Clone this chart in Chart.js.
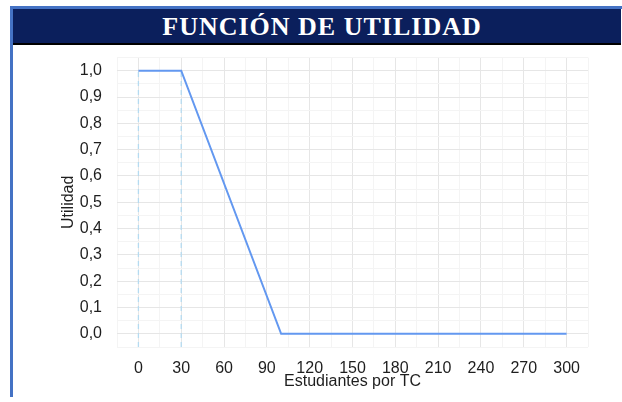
<!DOCTYPE html>
<html>
<head>
<meta charset="utf-8">
<script src="https://cdn.jsdelivr.net/npm/chart.js@4"></script>
<style>
  body { margin: 0; background: #fff; width: 622px; height: 402px; overflow: hidden; position: relative; }
  #topLine { position: absolute; left: 10px; top: 6px; width: 612px; height: 3px; background: #4472c4; }
  #leftLine { position: absolute; left: 10px; top: 6px; width: 3px; height: 391px; background: #4472c4; }
  #header {
    position: absolute; left: 13px; top: 9px; width: 598px; height: 34px; z-index: 2;
    background: #0b1f5c; border-bottom: 2px solid #000;
    color: #fff; font-family: "Liberation Serif", serif; font-weight: bold;
    font-size: 26px; letter-spacing: 1px; line-height: 35px; text-align: center; padding-left: 10px;
  }
  #wrap { position: absolute; left: 14px; top: 33px; width: 606px; height: 367px; }
</style>
</head>
<body>
<div id="topLine"></div>
<div id="leftLine"></div>
<div id="wrap"><canvas id="utilityChart"></canvas></div>
<div id="header">FUNCIÓN DE UTILIDAD</div>
<script>
// data
const students = [0, 30, 100, 300];
const utility = [1, 1, 0, 0];
const dropLines = [0, 30];
const xTickLabels = [0, 30, 60, 90, 120, 150, 180, 210, 240, 270, 300];
const yTickLabels = [0, 0.1, 0.2, 0.3, 0.4, 0.5, 0.6, 0.7, 0.8, 0.9, 1.0];

const xMin = -15, xMax = 315;
const yMin = -0.05, yMax = 1.05;

document.addEventListener('DOMContentLoaded', function() {
    const ctx = document.getElementById('utilityChart').getContext('2d');

    const datasets = dropLines.map(function(x) {
        return {
            data: [{ x: x, y: yMin }, { x: x, y: 1 }],
            borderColor: '#b5dbf1',
            borderWidth: 1.3,
            borderDash: [5, 4],
            pointRadius: 0,
            order: 2
        };
    });
    datasets.push({
        label: 'Utilidad',
        data: students.map(function(x, i) { return { x: x, y: utility[i] }; }),
        borderColor: '#6398f0',
        borderWidth: 2,
        pointRadius: 0,
        tension: 0,
        order: 1
    });

    const tickFont = { family: 'Liberation Sans', size: 16 };

    new Chart(ctx, {
        type: 'line',
        data: { datasets: datasets },
        options: {
            responsive: true,
            maintainAspectRatio: false,
            animation: false,
            layout: { padding: { left: 0, right: 32, top: 0, bottom: 0 } },
            plugins: { legend: { display: false }, tooltip: { enabled: false } },
            scales: {
                x: {
                    type: 'linear',
                    min: xMin,
                    max: xMax,
                    afterFit: function(scale) { scale.height = 53; },
                    ticks: {
                        stepSize: 15,
                        autoSkip: false,
                        maxRotation: 0,
                        padding: 12,
                        color: '#1e1e1e',
                        font: tickFont,
                        callback: function(v) {
                            return xTickLabels.indexOf(v) >= 0 ? String(v) : '';
                        }
                    },
                    grid: {
                        drawTicks: false,
                        color: function(c) {
                            return xTickLabels.indexOf(c.tick.value) >= 0 ? '#e6e6e6' : '#f4f4f4';
                        }
                    },
                    border: { display: false },
                    title: {
                        display: true,
                        text: 'Estudiantes por TC',
                        color: '#1e1e1e',
                        font: { family: 'Liberation Sans', size: 16 },
                        padding: { top: 0, bottom: 9 }
                    }
                },
                y: {
                    type: 'linear',
                    min: yMin,
                    max: yMax,
                    afterFit: function(scale) { scale.width = 103; },
                    ticks: {
                        stepSize: 0.05,
                        autoSkip: false,
                        padding: 15,
                        color: '#1e1e1e',
                        font: tickFont,
                        callback: function(v) {
                            const k = Math.round(v * 10) / 10;
                            if (Math.abs(v - k) > 1e-6 || yTickLabels.indexOf(k) < 0) return '';
                            return k.toFixed(1).replace('.', ',');
                        }
                    },
                    grid: {
                        drawTicks: false,
                        color: function(c) {
                            const k = Math.round(c.tick.value * 10) / 10;
                            return Math.abs(c.tick.value - k) < 1e-6 ? '#e6e6e6' : '#f4f4f4';
                        }
                    },
                    border: { display: false },
                    title: {
                        display: true,
                        text: 'Utilidad',
                        color: '#1e1e1e',
                        font: { family: 'Liberation Sans', size: 16 },
                        padding: { top: 45, bottom: 0 }
                    }
                }
            }
        }
    });
});
</script>
</body>
</html>
